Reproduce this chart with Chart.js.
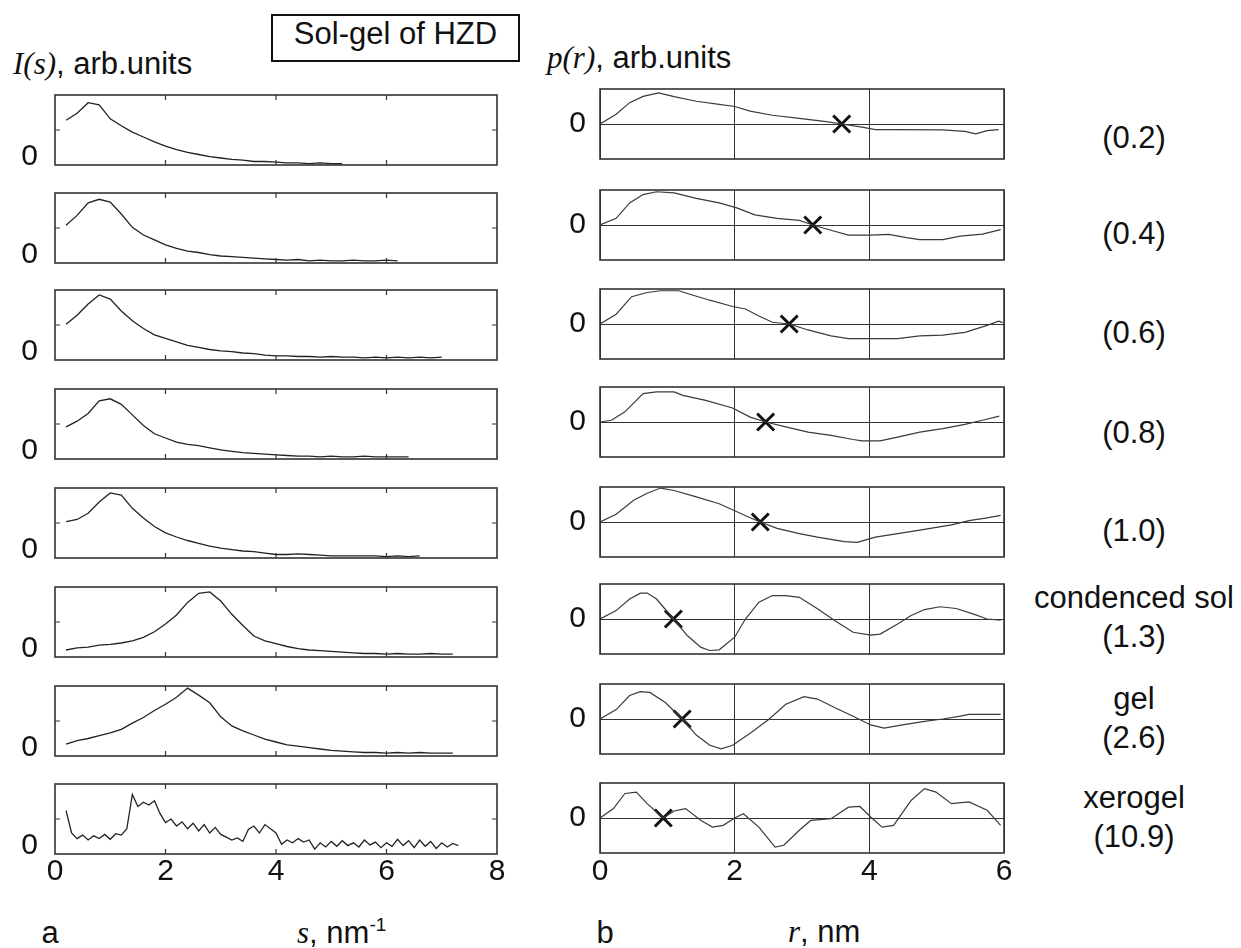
<!DOCTYPE html>
<html>
<head>
<meta charset="utf-8">
<script src="https://cdn.jsdelivr.net/npm/chart.js"></script>
<style>
  body { margin: 0; background: #fff; width: 1241px; height: 948px; position: relative; overflow: hidden;
         font-family: "Liberation Sans", Arial, sans-serif; color: #111; }
  canvas { position: absolute; }
  .t { position: absolute; font-size: 31px; line-height: 1; white-space: nowrap; transform: translateY(-50%); }
  .c { transform: translate(-50%, -50%); text-align: center; }
  .it { font-family: "Liberation Serif", serif; font-style: italic; }
  sup { font-size: 19px; line-height: 0; vertical-align: 12px; }
  .box { position: absolute; left: 271px; top: 14px; width: 249px; height: 48px; box-sizing: border-box;
         border: 2px solid #111; font-size: 31px; text-align: center; line-height: 31px; padding-top: 2px; }
</style>
</head>
<body>
<div class="box">Sol-gel of HZD</div>
<div class="t" style="left:13px; top:63px"><span class="it">I(s)</span>, arb.units</div>
<div class="t" style="left:547px; top:57px"><span class="it">p(r)</span>, arb.units</div>
<div class="t c" style="left:50px; top:932px">a</div>
<div class="t" style="left:297px; top:932px"><span class="it">s</span>, nm<sup>-1</sup></div>
<div class="t c" style="left:605px; top:932px">b</div>
<div class="t" style="left:788px; top:931px"><span class="it">r</span>, nm</div>

<script>
// I(s) curves, s in nm^-1
const sGrid = [0.2, 0.4, 0.6, 0.8, 1.0, 1.2, 1.4, 1.6, 1.8, 2.0, 2.2, 2.4, 2.6, 2.8, 3.0, 3.2, 3.4, 3.6,
               3.8, 4.0, 4.2, 4.4, 4.6, 4.8, 5.0, 5.2, 5.4, 5.6, 5.8, 6.0, 6.2, 6.4, 6.6, 6.8, 7.0, 7.2];
const iSol02 = [0.64, 0.74, 0.89, 0.86, 0.66, 0.56, 0.47, 0.40, 0.33, 0.27, 0.22, 0.18, 0.15, 0.12, 0.10, 0.08,
                0.07, 0.05, 0.05, 0.04, 0.03, 0.03, 0.02, 0.03, 0.02, 0.02];
const iSol04 = [0.54, 0.68, 0.86, 0.91, 0.87, 0.70, 0.51, 0.40, 0.33, 0.26, 0.21, 0.17, 0.15, 0.12, 0.10, 0.09,
                0.08, 0.07, 0.06, 0.05, 0.04, 0.05, 0.03, 0.04, 0.03, 0.03, 0.04, 0.03, 0.03, 0.04, 0.03];
const iSol06 = [0.51, 0.64, 0.80, 0.93, 0.87, 0.70, 0.56, 0.45, 0.36, 0.31, 0.26, 0.21, 0.18, 0.15, 0.13, 0.12,
                0.10, 0.09, 0.07, 0.06, 0.06, 0.05, 0.05, 0.04, 0.05, 0.04, 0.04, 0.03, 0.04, 0.03, 0.04, 0.03,
                0.04, 0.03, 0.04];
const iSol08 = [0.46, 0.54, 0.65, 0.83, 0.86, 0.78, 0.63, 0.48, 0.36, 0.30, 0.24, 0.21, 0.19, 0.16, 0.13, 0.11,
                0.09, 0.08, 0.07, 0.06, 0.05, 0.04, 0.04, 0.03, 0.04, 0.03, 0.03, 0.04, 0.03, 0.03, 0.03, 0.03];
const iSol10 = [0.52, 0.55, 0.64, 0.80, 0.93, 0.90, 0.71, 0.57, 0.45, 0.36, 0.30, 0.25, 0.21, 0.17, 0.14, 0.12,
                0.10, 0.09, 0.07, 0.05, 0.05, 0.06, 0.05, 0.04, 0.03, 0.03, 0.03, 0.03, 0.03, 0.02, 0.03, 0.02, 0.03];
const iCond = [0.10, 0.13, 0.14, 0.17, 0.18, 0.20, 0.23, 0.28, 0.36, 0.47, 0.60, 0.78, 0.91, 0.93, 0.80, 0.61,
               0.45, 0.30, 0.23, 0.19, 0.15, 0.12, 0.10, 0.09, 0.08, 0.07, 0.06, 0.05, 0.05, 0.04, 0.05, 0.04,
               0.04, 0.05, 0.04, 0.04];
const iGel = [0.17, 0.22, 0.25, 0.29, 0.33, 0.38, 0.47, 0.55, 0.65, 0.74, 0.84, 0.97, 0.87, 0.76, 0.56, 0.43,
              0.36, 0.30, 0.24, 0.20, 0.16, 0.14, 0.12, 0.10, 0.08, 0.07, 0.06, 0.05, 0.05, 0.04, 0.05, 0.04,
              0.05, 0.04, 0.04, 0.04];
const sXero = [0.2, 0.3, 0.4, 0.5, 0.6, 0.7, 0.8, 0.9, 1.0, 1.1, 1.2, 1.3, 1.4, 1.5, 1.6, 1.7, 1.8, 1.9,
               2.0, 2.1, 2.2, 2.3, 2.4, 2.5, 2.6, 2.7, 2.8, 2.9, 3.0, 3.1, 3.2, 3.3, 3.4, 3.5, 3.6, 3.7,
               3.8, 3.9, 4.0, 4.1, 4.2, 4.3, 4.4, 4.5, 4.6, 4.7, 4.8, 4.9, 5.0, 5.1, 5.2, 5.3, 5.4, 5.5,
               5.6, 5.7, 5.8, 5.9, 6.0, 6.1, 6.2, 6.3, 6.4, 6.5, 6.6, 6.7, 6.8, 6.9, 7.0, 7.1, 7.2, 7.3];
const iXero = [0.62, 0.30, 0.22, 0.27, 0.20, 0.26, 0.22, 0.28, 0.21, 0.29, 0.27, 0.36, 0.85, 0.68, 0.74, 0.70,
               0.76, 0.58, 0.45, 0.50, 0.40, 0.46, 0.36, 0.44, 0.33, 0.42, 0.30, 0.38, 0.28, 0.24, 0.20, 0.23,
               0.18, 0.35, 0.40, 0.30, 0.42, 0.36, 0.30, 0.14, 0.20, 0.16, 0.22, 0.17, 0.20, 0.07, 0.16, 0.10,
               0.18, 0.11, 0.19, 0.12, 0.16, 0.10, 0.20, 0.13, 0.17, 0.09, 0.16, 0.11, 0.21, 0.12, 0.19, 0.09,
               0.20, 0.11, 0.18, 0.08, 0.16, 0.10, 0.15, 0.12];

// p(r) curves, r in nm
const rSol02 = [0, 0.24, 0.44, 0.64, 0.87, 1.1, 1.43, 1.77, 2.0, 2.23, 2.56, 2.96, 3.36, 3.59, 3.89, 4.09, 4.42, 5.09, 5.42, 5.58, 5.75, 5.92];
const pSol02 = [0, 0.28, 0.61, 0.79, 0.89, 0.78, 0.65, 0.56, 0.50, 0.37, 0.25, 0.16, 0.07, 0, -0.09, -0.16, -0.16, -0.17, -0.21, -0.28, -0.19, -0.16];
const rSol04 = [0, 0.24, 0.44, 0.64, 0.84, 1.1, 1.43, 1.77, 2.03, 2.3, 2.63, 2.96, 3.16, 3.43, 3.69, 4.02, 4.29, 4.55, 4.75, 5.09, 5.35, 5.68, 5.95];
const pSol04 = [0, 0.19, 0.63, 0.87, 0.95, 0.92, 0.76, 0.63, 0.49, 0.29, 0.19, 0.13, 0, -0.15, -0.29, -0.29, -0.27, -0.36, -0.42, -0.42, -0.32, -0.26, -0.13];
const rSol06 = [0, 0.24, 0.47, 0.7, 0.9, 1.17, 1.37, 1.63, 1.97, 2.16, 2.36, 2.56, 2.81, 3.09, 3.43, 3.69, 3.96, 4.42, 4.75, 5.09, 5.42, 5.75, 5.92, 5.98];
const pSol06 = [0, 0.28, 0.78, 0.90, 0.95, 0.95, 0.83, 0.68, 0.50, 0.43, 0.23, 0.05, 0, -0.17, -0.34, -0.42, -0.42, -0.42, -0.34, -0.32, -0.24, -0.04, 0.08, 0.04];
const rSol08 = [0, 0.17, 0.37, 0.64, 0.84, 1.1, 1.23, 1.57, 1.97, 2.23, 2.46, 2.76, 3.09, 3.43, 3.76, 3.89, 4.16, 4.42, 4.75, 5.09, 5.42, 5.68, 5.93];
const pSol08 = [0, 0.05, 0.29, 0.81, 0.86, 0.86, 0.76, 0.62, 0.40, 0.14, 0, -0.14, -0.29, -0.38, -0.50, -0.54, -0.54, -0.43, -0.29, -0.19, -0.07, 0.05, 0.17];
const rSol10 = [0, 0.24, 0.5, 0.7, 0.9, 1.1, 1.43, 1.77, 2.0, 2.23, 2.38, 2.63, 2.96, 3.23, 3.63, 3.82, 4.09, 4.42, 4.75, 5.22, 5.48, 5.75, 5.95];
const pSol10 = [0, 0.22, 0.62, 0.82, 0.97, 0.90, 0.72, 0.52, 0.32, 0.12, 0, -0.18, -0.33, -0.43, -0.56, -0.58, -0.43, -0.33, -0.23, -0.08, 0.04, 0.12, 0.19];
const rCond = [0, 0.24, 0.44, 0.6, 0.7, 0.84, 1.09, 1.3, 1.5, 1.63, 1.77, 2.0, 2.16, 2.36, 2.56, 2.76, 2.96, 3.23, 3.49, 3.76, 4.02, 4.16, 4.42, 4.62, 4.82, 5.05, 5.29, 5.55, 5.75, 5.95];
const pCond = [0, 0.24, 0.57, 0.74, 0.74, 0.57, 0, -0.48, -0.81, -0.90, -0.88, -0.52, 0, 0.48, 0.67, 0.67, 0.62, 0.29, -0.05, -0.38, -0.46, -0.43, -0.14, 0.10, 0.27, 0.35, 0.30, 0.14, 0, -0.03];
const rGel = [0, 0.24, 0.44, 0.6, 0.74, 0.97, 1.22, 1.43, 1.63, 1.8, 1.97, 2.23, 2.5, 2.76, 3.03, 3.23, 3.49, 3.76, 4.02, 4.22, 4.49, 4.82, 5.09, 5.35, 5.48, 5.95];
const pGel = [0, 0.27, 0.67, 0.78, 0.76, 0.47, 0, -0.46, -0.75, -0.85, -0.75, -0.41, -0.02, 0.42, 0.64, 0.57, 0.32, 0.08, -0.17, -0.26, -0.17, -0.07, 0, 0.08, 0.13, 0.13];
const rXero = [0, 0.2, 0.37, 0.54, 0.7, 0.94, 1.1, 1.27, 1.5, 1.67, 1.83, 2.0, 2.13, 2.36, 2.6, 2.73, 2.96, 3.13, 3.43, 3.69, 3.86, 4.02, 4.19, 4.36, 4.62, 4.82, 4.99, 5.22, 5.48, 5.75, 5.95];
const pXero = [0, 0.27, 0.70, 0.74, 0.41, 0, 0.20, 0.27, -0.07, -0.26, -0.21, 0, 0.12, -0.26, -0.83, -0.78, -0.35, -0.07, -0.02, 0.31, 0.33, 0.03, -0.26, -0.21, 0.50, 0.84, 0.74, 0.41, 0.46, 0.22, -0.21];

// zero crossings marked with a cross, r in nm
const crossR = [3.59, 3.16, 2.81, 2.46, 2.38, 1.09, 1.22, 0.94];

const stageLabels = [['(0.2)'], ['(0.4)'], ['(0.6)'], ['(0.8)'], ['(1.0)'],
                     ['condenced sol', '(1.3)'], ['gel', '(2.6)'], ['xerogel', '(10.9)']];

const iCurves = [[sGrid, iSol02], [sGrid, iSol04], [sGrid, iSol06], [sGrid, iSol08], [sGrid, iSol10],
                 [sGrid, iCond], [sGrid, iGel], [sXero, iXero]];
const pCurves = [[rSol02, pSol02], [rSol04, pSol04], [rSol06, pSol06], [rSol08, pSol08], [rSol10, pSol10],
                 [rCond, pCond], [rGel, pGel], [rXero, pXero]];

// layout (page pixels)
const leftTop = [95, 193, 290, 389, 488, 587, 686, 784];
const rightTop = [89, 190, 289, 387, 487, 584, 684, 783];
const labelY = [137, 233, 332, 432, 530, 617, 718, 817];
const PANEL_H = 70;
const PAD = 40;
const AXIS_H = 50;

const tickFont = { family: '"Liberation Sans", Arial, sans-serif', size: 30 };

const frame = {
  id: 'frame',
  afterDraw(c) {
    const a = c.chartArea, g = c.ctx;
    g.save();
    g.strokeStyle = '#333';
    g.lineWidth = 1.6;
    g.strokeRect(a.left, a.top, a.right - a.left, a.bottom - a.top);
    g.restore();
  }
};

// short inward ticks of the I(s) panels
const inTicks = {
  id: 'inTicks',
  afterDraw(c) {
    const a = c.chartArea, g = c.ctx, x = c.scales.x, y = c.scales.y;
    g.save();
    g.strokeStyle = '#333';
    g.lineWidth = 1.2;
    g.beginPath();
    [2, 4, 6].forEach(v => {
      const px = x.getPixelForValue(v);
      g.moveTo(px, a.top); g.lineTo(px, a.top + 5);
      g.moveTo(px, a.bottom); g.lineTo(px, a.bottom - 5);
    });
    const py = y.getPixelForValue(0.5);
    g.moveTo(a.left, py); g.lineTo(a.left + 5, py);
    g.moveTo(a.right, py); g.lineTo(a.right - 5, py);
    g.stroke();
    g.restore();
  }
};

function addCanvas(left, top, w, h) {
  const cv = document.createElement('canvas');
  cv.width = w; cv.height = h;
  cv.style.left = left + 'px';
  cv.style.top = top + 'px';
  document.body.appendChild(cv);
  return cv;
}

function toPoints(xs, ys) {
  const pts = [];
  for (let k = 0; k < ys.length; k++) pts.push({ x: xs[k], y: ys[k] });
  return pts;
}

// left column: I(s)
iCurves.forEach(([xs, ys], i) => {
  const last = i === iCurves.length - 1;
  const axisH = last ? AXIS_H : 0;
  const padB = last ? 10 : PAD;
  const cv = addCanvas(0, leftTop[i] - PAD, 55 + 442 + 20, PAD + PANEL_H + axisH + padB);
  new Chart(cv, {
    type: 'line',
    data: { datasets: [{ data: toPoints(xs, ys), borderColor: '#222', borderWidth: 1.3, pointRadius: 0, tension: 0 }] },
    options: {
      responsive: false, animation: false, events: [],
      layout: { padding: { top: PAD, bottom: padB, left: 0, right: 20 } },
      plugins: { legend: { display: false }, tooltip: { enabled: false } },
      scales: {
        x: {
          type: 'linear', min: 0, max: 8, display: last,
          ticks: { stepSize: 2, font: tickFont, color: '#111', padding: 0, maxRotation: 0 },
          grid: { display: false, drawTicks: false }, border: { display: false },
          afterFit: s => { s.height = axisH; }
        },
        y: {
          min: 0, max: 1,
          ticks: { font: tickFont, color: '#111', padding: 17, labelOffset: -8 },
          afterBuildTicks: s => { s.ticks = [{ value: 0 }]; },
          grid: { display: false, drawTicks: false }, border: { display: false },
          afterFit: s => { s.width = 55; }
        }
      }
    },
    plugins: [frame, inTicks]
  });
});

// right column: p(r)
pCurves.forEach(([xs, ys], i) => {
  const last = i === pCurves.length - 1;
  const axisH = last ? AXIS_H : 0;
  const padB = last ? 10 : PAD;
  const cv = addCanvas(540, rightTop[i] - PAD, 60 + 404 + 20, PAD + PANEL_H + axisH + padB);
  new Chart(cv, {
    type: 'line',
    data: {
      datasets: [
        { data: toPoints(xs, ys), borderColor: '#3a3a3a', borderWidth: 1.2, pointRadius: 0, tension: 0 },
        { data: [{ x: crossR[i], y: 0 }], showLine: false, pointStyle: 'crossRot', pointRadius: 12,
          borderColor: '#111', borderWidth: 3 }
      ]
    },
    options: {
      responsive: false, animation: false, events: [],
      layout: { padding: { top: PAD, bottom: padB, left: 0, right: 20 } },
      plugins: { legend: { display: false }, tooltip: { enabled: false } },
      scales: {
        x: {
          type: 'linear', min: 0, max: 6,
          ticks: { display: last, stepSize: 2, font: tickFont, color: '#111', padding: 1, maxRotation: 0 },
          grid: { color: '#333', lineWidth: 1, drawTicks: false }, border: { display: false },
          afterFit: s => { s.height = axisH; }
        },
        y: {
          min: -1, max: 1,
          ticks: { font: tickFont, color: '#111', padding: 14 },
          afterBuildTicks: s => { s.ticks = [{ value: 0 }]; },
          grid: { color: '#333', lineWidth: 1, drawTicks: false }, border: { display: false },
          afterFit: s => { s.width = 60; }
        }
      }
    },
    plugins: [frame]
  });
});

// stage labels at the right
stageLabels.forEach((lines, i) => {
  const d = document.createElement('div');
  d.className = 't c';
  d.style.left = '1134px';
  d.style.top = labelY[i] + 'px';
  d.style.lineHeight = '39px';
  d.innerHTML = lines.join('<br>');
  document.body.appendChild(d);
});
</script>
</body>
</html>
